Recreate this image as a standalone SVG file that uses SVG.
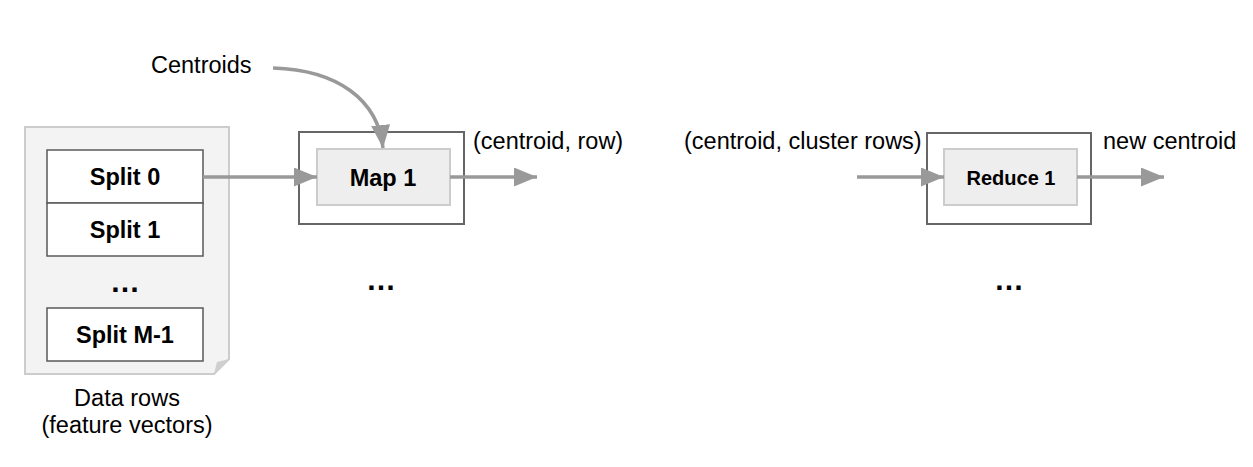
<svg xmlns="http://www.w3.org/2000/svg" width="1253" height="467" viewBox="0 0 1253 467">
<style>
text{font-family:"Liberation Sans",Arial,sans-serif;font-size:23.5px;fill:#000}
.b{font-weight:bold}
.c{text-anchor:middle}
.dots{font-size:30px;font-weight:bold;text-anchor:middle}
.split{fill:#fff;stroke:#595959;stroke-width:1.5}
.outer{fill:#fff;stroke:#666;stroke-width:2}
.inner{fill:#eee;stroke:#ccc;stroke-width:2}
.conn{fill:none;stroke:#999;stroke-width:3.5}
</style>
<defs>
<marker id="ah" markerUnits="userSpaceOnUse" markerWidth="24" markerHeight="20" refX="23" refY="9.5" orient="auto">
<path d="M0,0 L23,9.5 L0,19 Z" fill="#999"/>
</marker>
</defs>
<rect width="1253" height="467" fill="#fff"/>
<g id="data">
<path d="M25,127 H229 V359 L214,374 H25 Z" fill="#f3f3f3" stroke="#ccc" stroke-width="2"/>
<path d="M214,374 L217,362 L229,359 Z" fill="#cfcfcf"/>
<rect class="split" x="47" y="150" width="156" height="53"/>
<text class="b c" x="125" y="185">Split 0</text>
<rect class="split" x="47" y="203" width="156" height="53"/>
<text class="b c" x="125" y="238">Split 1</text>
<text class="dots" x="125" y="292">…</text>
<rect class="split" x="47" y="308" width="156" height="53"/>
<text class="b c" x="125" y="343">Split M-1</text>
<text class="c" x="127" y="406">Data rows</text>
<text class="c" x="127" y="433">(feature vectors)</text>
</g>
<g id="map1">
<rect class="outer" x="299" y="132" width="165" height="92"/>
<rect class="inner" x="317" y="149" width="133" height="56"/>
<text class="b c" x="383" y="186">Map 1</text>
</g>
<g id="reduce1">
<rect class="outer" x="927" y="133" width="164" height="91"/>
<rect class="inner" x="944" y="149" width="133" height="56"/>
<text class="b c" x="1011" y="185" style="font-size:20px">Reduce 1</text>
</g>
<g id="labels">
<text x="151" y="73">Centroids</text>
<text x="473" y="149">(centroid, row)</text>
<text x="684" y="149">(centroid, cluster rows)</text>
<text x="1103" y="149">new centroid</text>
<text class="dots" x="381" y="290">…</text>
<text class="dots" x="1009" y="290">…</text>
</g>
<g id="connectors">
<path class="conn" d="M203,177 H317" marker-end="url(#ah)"/>
<path class="conn" d="M450,177 H537" marker-end="url(#ah)"/>
<path class="conn" d="M857,177 H944" marker-end="url(#ah)"/>
<path class="conn" d="M1077,177 H1164" marker-end="url(#ah)"/>
<path class="conn" d="M273,68 C338,70 378,100 383,148" marker-end="url(#ah)"/>
</g>
</svg>
